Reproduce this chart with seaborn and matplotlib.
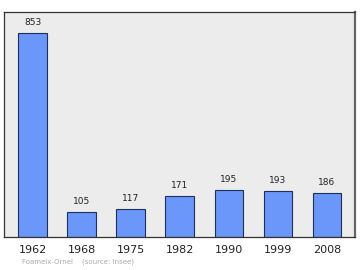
import matplotlib
matplotlib.use("Agg")
import matplotlib.pyplot as plt
import seaborn as sns
import pandas as pd

years = ["1962", "1968", "1975", "1982", "1990", "1999", "2008"]
population = [853, 105, 117, 171, 195, 193, 186]

df = pd.DataFrame({"year": years, "pop": population})

sns.set_theme(style="white")
plt.rcParams['font.family'] = ['DejaVu Sans']

fig = plt.figure(figsize=(3.6, 2.7), dpi=100)
ax = fig.add_axes([0.011, 0.122, 0.975, 0.834])
ax.set_facecolor("#ececec")

sns.barplot(data=df, x="year", y="pop", ax=ax, color="#6b97fa",
            edgecolor="#1f2f5a", linewidth=0.8, width=0.59, saturation=1)

for i, v in enumerate(population):
    ax.text(i, v + 25, str(v), ha="center", va="bottom", fontsize=6.5, color="#222222")

ax.set_xlim(-0.59, 6.57)
ax.set_ylim(0, 940)
ax.set_yticks([])
ax.set_xlabel("")
ax.set_ylabel("")
ax.tick_params(axis="x", length=0, pad=6, labelsize=8, colors="#222222")
for s in ["left", "bottom", "top"]:
    ax.spines[s].set_color("#333333")
    ax.spines[s].set_linewidth(0.9)
ax.spines["right"].set_color("#666666")
ax.spines["right"].set_linewidth(1.6)

fig.text(0.06, 0.025, "Foameix-Ornel    (source: Insee)", fontsize=5, color="#aaaaaa")

fig.savefig("out.png", dpi=100, facecolor="white")
